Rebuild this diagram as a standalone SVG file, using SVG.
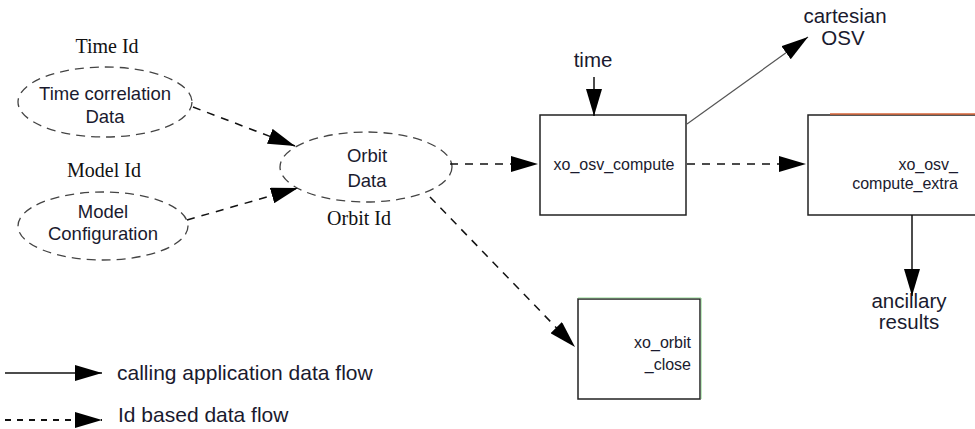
<svg xmlns="http://www.w3.org/2000/svg" width="975" height="429" viewBox="0 0 975 429">
<style>
.sans{font-family:"Liberation Sans",Arial,sans-serif;fill:#1a1a2e}
.serif{font-family:"Liberation Serif","Times New Roman",serif;fill:#111}
.ell{fill:none;stroke:#444;stroke-width:1.3;stroke-dasharray:9,6}
.box{fill:#fff;stroke:#222;stroke-width:1.5}
.solid{fill:none;stroke:#111;stroke-width:1.5}
.dash{fill:none;stroke:#111;stroke-width:1.5;stroke-dasharray:8,7}
</style>
<defs>
<marker id="ah" markerUnits="userSpaceOnUse" markerWidth="28" markerHeight="16" refX="27" refY="8" orient="auto">
<path d="M0,0 L27,8 L0,16 Z" fill="#000"/>
</marker>
</defs>
<rect width="975" height="429" fill="#fff"/>
<g id="time-corr">
<text class="serif" x="107" y="53" font-size="20" text-anchor="middle">Time Id</text>
<ellipse class="ell" cx="105" cy="102" rx="87" ry="35"/>
<text class="sans" x="105" y="100" font-size="18.5" text-anchor="middle">Time correlation</text>
<text class="sans" x="105" y="123" font-size="18.5" text-anchor="middle">Data</text>
</g>
<g id="model-config">
<text class="serif" x="104" y="177" font-size="20" text-anchor="middle">Model Id</text>
<ellipse class="ell" cx="103" cy="226" rx="85" ry="34"/>
<text class="sans" x="103" y="218" font-size="18.5" text-anchor="middle">Model</text>
<text class="sans" x="103" y="240" font-size="18.5" text-anchor="middle">Configuration</text>
</g>
<g id="orbit-data">
<ellipse class="ell" cx="366" cy="167" rx="86" ry="35"/>
<text class="sans" x="367" y="162" font-size="18.5" text-anchor="middle">Orbit</text>
<text class="sans" x="367" y="187" font-size="18.5" text-anchor="middle">Data</text>
<text class="serif" x="359" y="225" font-size="20" text-anchor="middle">Orbit Id</text>
</g>
<g id="osv-compute">
<rect class="box" x="540" y="115" width="146" height="100"/>
<text class="sans" x="614" y="170" font-size="16" text-anchor="middle">xo_osv_compute</text>
</g>
<g id="osv-compute-extra">
<rect class="box" x="808" y="115" width="180" height="100"/>
<line x1="830" y1="114" x2="975" y2="114" stroke="#d9663a" stroke-width="1.5"/>
<text class="sans" x="958" y="170" font-size="16" text-anchor="end">xo_osv_</text>
<text class="sans" x="958" y="189" font-size="16" text-anchor="end">compute_extra</text>
</g>
<g id="orbit-close">
<rect class="box" x="578" y="299" width="122" height="100"/>
<line x1="578" y1="297.8" x2="701" y2="297.8" stroke="#9d9" stroke-width="0.8"/>
<line x1="701.3" y1="298" x2="701.3" y2="399" stroke="#9d9" stroke-width="0.8"/>
<text class="sans" x="691" y="348" font-size="16" text-anchor="end">xo_orbit</text>
<text class="sans" x="691" y="370" font-size="16" text-anchor="end">_close</text>
</g>
<g id="labels">
<text class="sans" x="593" y="67" font-size="20.5" text-anchor="middle">time</text>
<text class="sans" x="845" y="23" font-size="20.5" text-anchor="middle">cartesian</text>
<text class="sans" x="843" y="45" font-size="20.5" text-anchor="middle">OSV</text>
<text class="sans" x="909" y="308" font-size="20.5" text-anchor="middle">ancillary</text>
<text class="sans" x="909" y="329" font-size="20.5" text-anchor="middle">results</text>
</g>
<g id="connectors">
<line class="dash" x1="193" y1="107" x2="295" y2="146" marker-end="url(#ah)"/>
<line class="dash" x1="187" y1="220" x2="298" y2="188" marker-end="url(#ah)"/>
<line class="dash" x1="450" y1="164" x2="538" y2="164" marker-end="url(#ah)"/>
<line class="dash" x1="430" y1="197" x2="575" y2="347" marker-end="url(#ah)"/>
<line class="dash" x1="687" y1="164" x2="806" y2="164" marker-end="url(#ah)"/>
<line class="solid" x1="594" y1="77" x2="594" y2="116" marker-end="url(#ah)"/>
<line x1="687" y1="124" x2="808" y2="37" stroke="#555" stroke-width="1.2" marker-end="url(#ah)"/>
<line class="solid" x1="912" y1="215" x2="912" y2="296" marker-end="url(#ah)"/>
</g>
<g id="legend">
<line class="solid" x1="5" y1="373" x2="102" y2="373" marker-end="url(#ah)"/>
<text class="sans" x="117" y="380" font-size="21">calling application data flow</text>
<line x1="5" y1="420" x2="102" y2="420" stroke="#111" stroke-width="1.8" stroke-dasharray="6,6" marker-end="url(#ah)"/>
<text class="sans" x="118" y="422" font-size="21">Id based data flow</text>
</g>
</svg>
